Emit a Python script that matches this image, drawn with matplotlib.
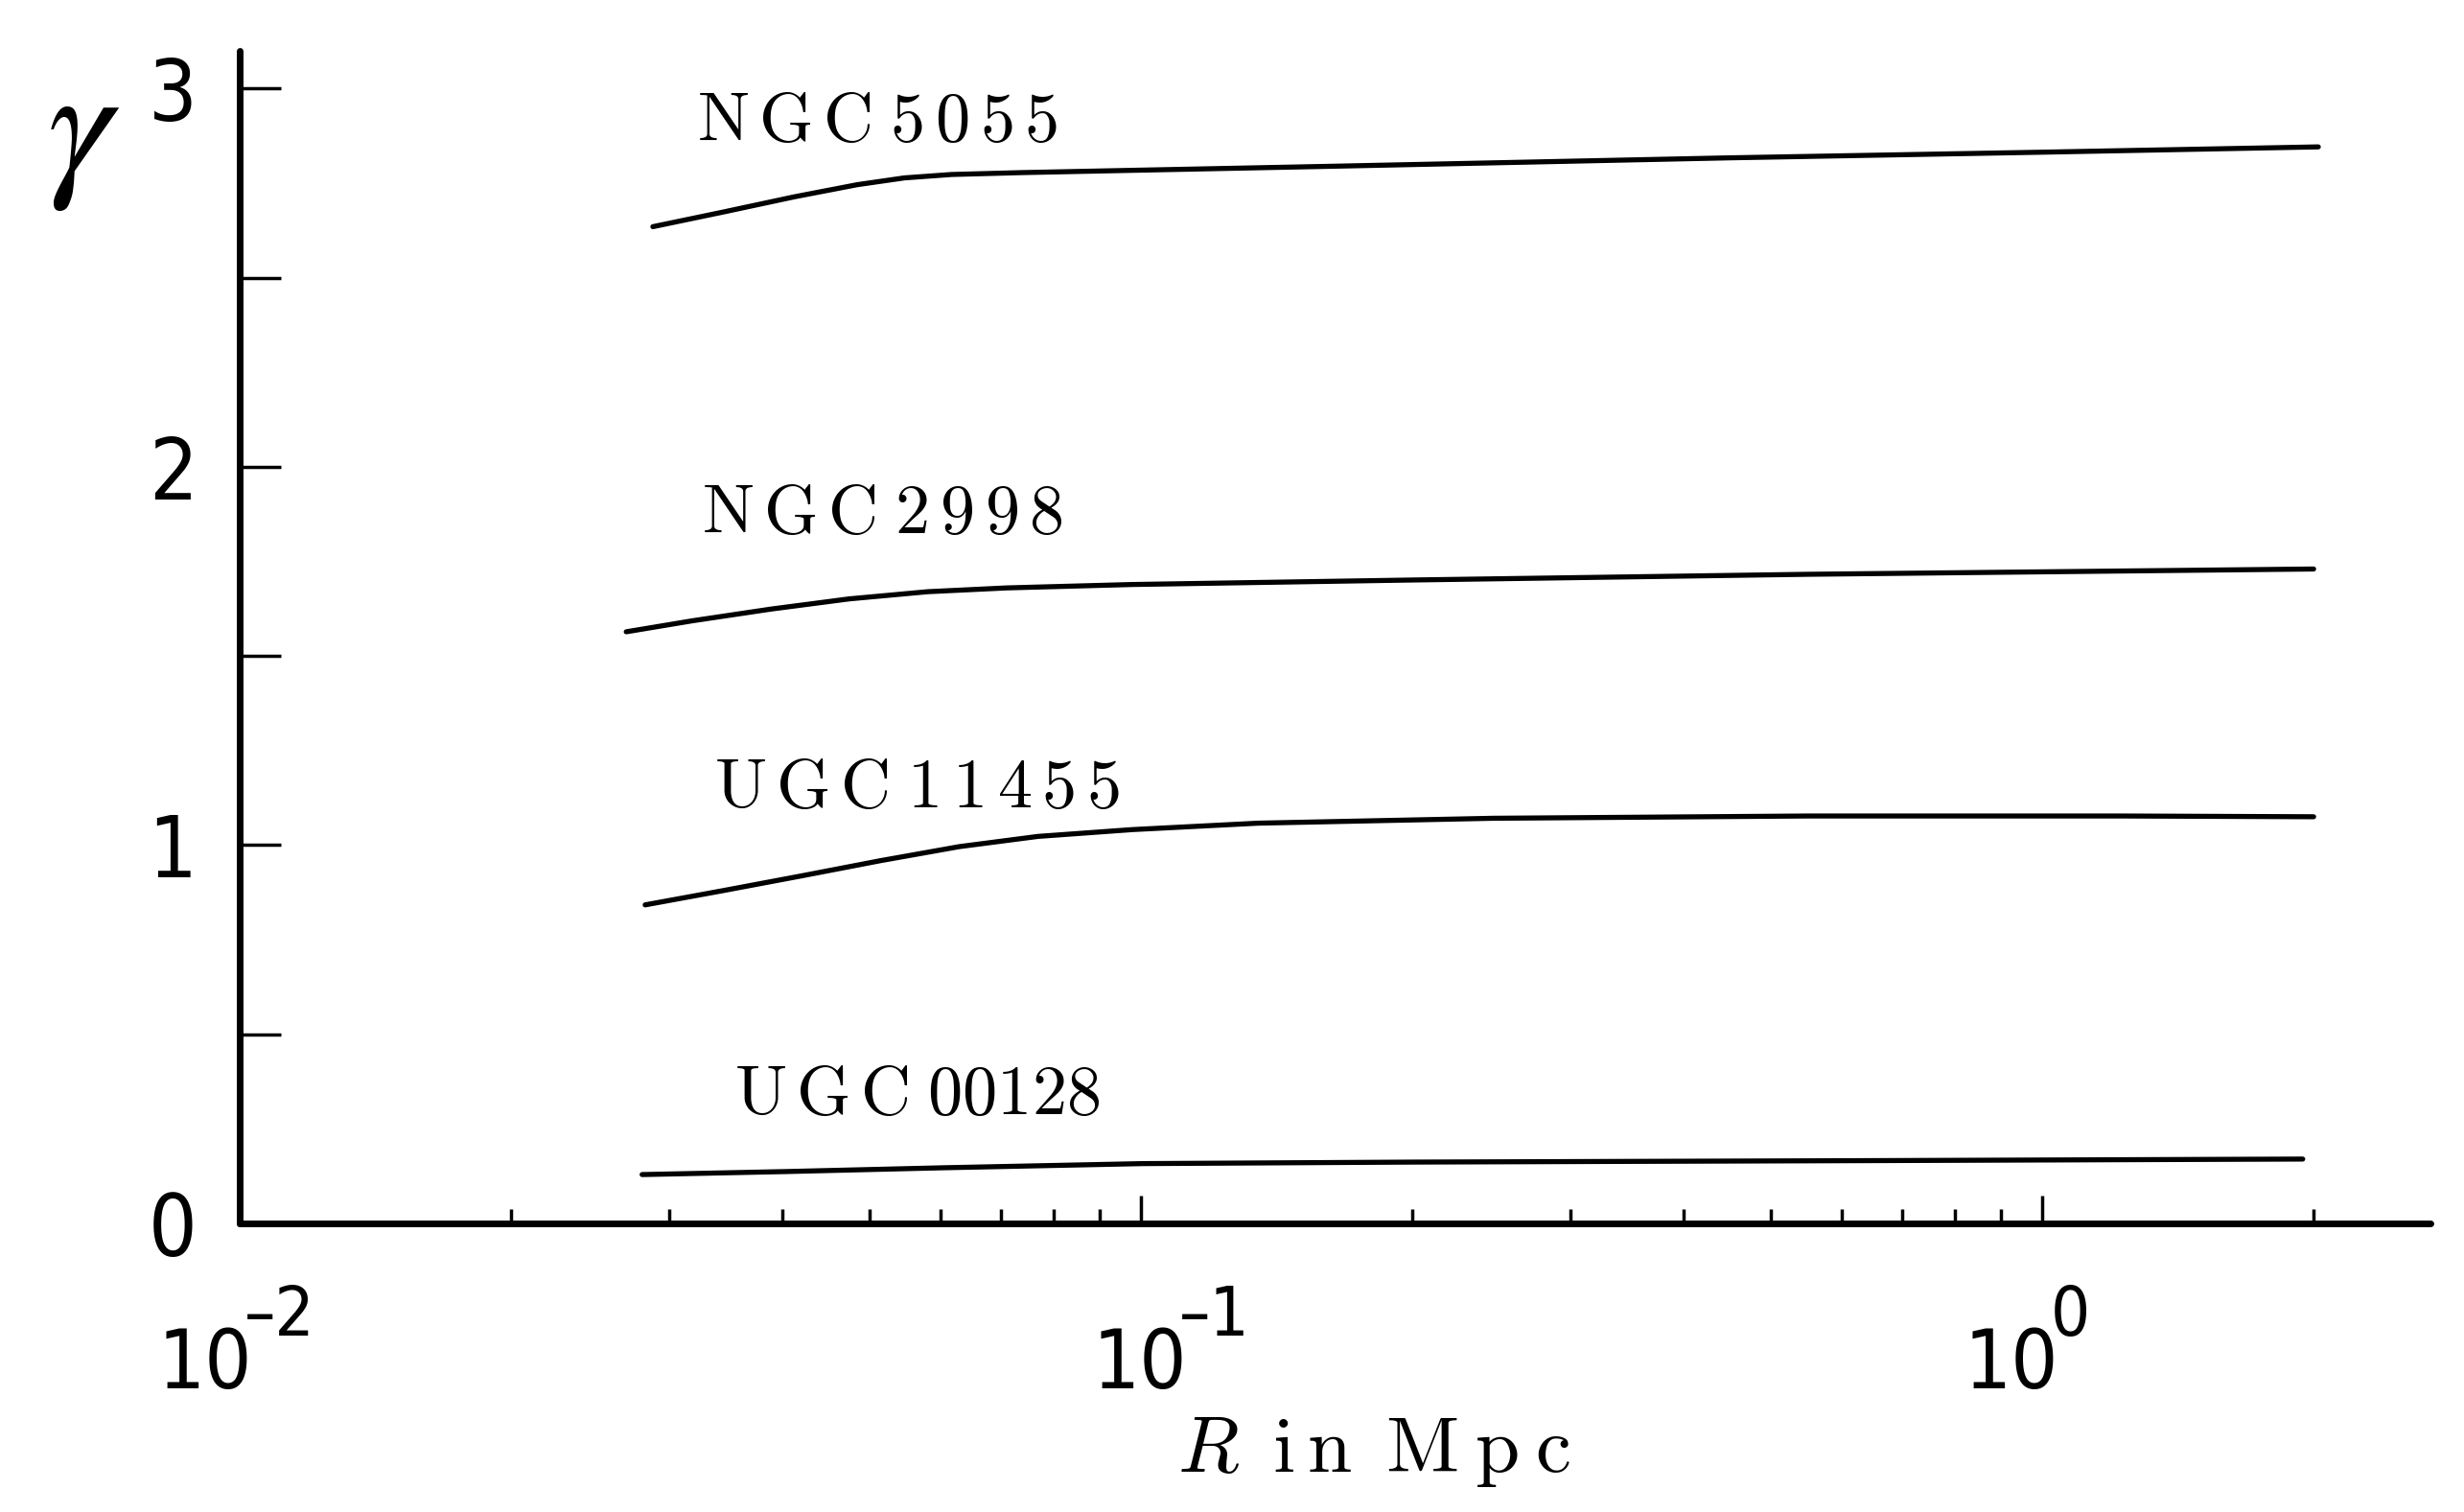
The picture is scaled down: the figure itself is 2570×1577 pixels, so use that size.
import numpy as np
import matplotlib
matplotlib.use("Agg")
import matplotlib.pyplot as plt
from matplotlib import font_manager
from matplotlib.transforms import blended_transform_factory, offset_copy

# tick digits in the picture are tall and narrow; use a narrow face if one is installed
tick_font, tick_stretch = "Lato", "normal"
for f in font_manager.fontManager.ttflist:
    if "condensed" in str(f.stretch) and f.style == "normal" and str(f.weight) in ("400", "normal", "regular"):
        tick_font, tick_stretch = f.name, f.stretch
        break

plt.rcParams['font.family'] = [tick_font, 'DejaVu Sans']
plt.rcParams['font.stretch'] = tick_stretch

# data (R in Mpc, gamma)
r_5055 = [0.02874, 0.03444, 0.04126, 0.04844, 0.05465, 0.06165, 0.07387, 0.09781, 0.1649, 0.4498, 1.004, 2.027]
g_5055 = [2.635, 2.674, 2.714, 2.746, 2.764, 2.773, 2.778, 2.784, 2.795, 2.817, 2.832, 2.846]

r_2998 = [0.02685, 0.03178, 0.03886, 0.04747, 0.05803, 0.07095, 0.09781, 0.2015, 0.5498, 2.003]
g_2998 = [1.564, 1.593, 1.624, 1.651, 1.670, 1.680, 1.689, 1.701, 1.716, 1.730]

r_11455 = [0.02818, 0.03444, 0.04209, 0.05145, 0.06289, 0.07688, 0.09781, 0.1349, 0.2462, 0.5498, 1.227, 2.003]
g_11455 = [0.842, 0.880, 0.919, 0.959, 0.996, 1.023, 1.041, 1.058, 1.071, 1.077, 1.077, 1.075]

r_00128 = [0.02796, 0.04045, 0.06042, 0.1006, 0.2015, 0.672, 1.948]
g_00128 = [0.129, 0.137, 0.147, 0.158, 0.162, 0.166, 0.170]

# curve labels, anchored at (left, baseline)
names_txt = [r'$\mathrm{N\,G\,C\;5\,0\,5\,5}$',
             r'$\mathrm{N\,G\,C\;2\,9\,9\,8}$',
             r'$\mathrm{U\,G\,C\;1\,1\,4\,5\,5}$',
             r'$\mathrm{U\,G\,C\;00128}$']
names_r = [0.0322, 0.0326, 0.0336, 0.0354]
names_g = [2.862, 1.824, 1.10, 0.289]

xticks_major = [0.01, 0.1, 1.0]
xtick_exp = ['\u20132', '\u20131', '0']
yticks_major = [0, 1, 2, 3]
yticks_minor = [0.5, 1.5, 2.5]

fig = plt.figure(figsize=(25.7, 15.77), dpi=100)
ax = fig.add_axes([0.0973, 0.1909, 0.8891, 0.7755])

for r, g in [(r_5055, g_5055), (r_2998, g_2998), (r_11455, g_11455), (r_00128, g_00128)]:
    ax.plot(r, g, color='black', lw=3.8, solid_capstyle='round', solid_joinstyle='round')

for t, x, y in zip(names_txt, names_r, names_g):
    ax.text(x, y, t, fontsize=52, ha='left', va='baseline', math_fontfamily='cm')

ax.set_xscale('log')
ax.set_xlim(0.01, 2.7)
ax.set_ylim(0, 3.1)

ax.set_xticks(xticks_major)
ax.set_yticks(yticks_major)
ax.set_yticks(yticks_minor, minor=True)

for s in ['top', 'right']:
    ax.spines[s].set_visible(False)
for s in ['left', 'bottom']:
    ax.spines[s].set_linewidth(5)
    ax.spines[s].set_capstyle('round')

ax.tick_params(axis='y', which='both', direction='in', length=31, width=2.5, labelsize=64, pad=32)
ax.tick_params(axis='x', which='major', direction='in', length=21, width=2.5, labelbottom=False)
ax.tick_params(axis='x', which='minor', direction='in', length=11, width=2.5, labelbottom=False)

# x tick labels: "10" plus a big raised exponent, as in the picture
trans = blended_transform_factory(ax.transData, ax.transAxes)
shift = [13, 48, 17]  # px, right edge of "10" relative to the tick
for v, e, dx in zip(xticks_major, xtick_exp, shift):
    ax.text(v, 0, '10', fontsize=62, ha='right', va='baseline', clip_on=False,
            transform=offset_copy(trans, fig=fig, x=dx, y=-172, units='dots'))
    ax.text(v, 0, e, fontsize=52, ha='left', va='baseline', clip_on=False,
            transform=offset_copy(trans, fig=fig, x=dx - 8, y=-117, units='dots'))

fig.text(0.034, 0.911, r'$\gamma$', fontsize=122, ha='center', va='center', math_fontfamily='stix')
fig.text(0.4778, 0.0265, r'$R\ \,\mathrm{i\/n}\ \,\mathrm{M\:p\:c}$', fontsize=60,
         ha='left', va='baseline', math_fontfamily='cm')

fig.savefig('out.png', dpi=100, facecolor='white')
